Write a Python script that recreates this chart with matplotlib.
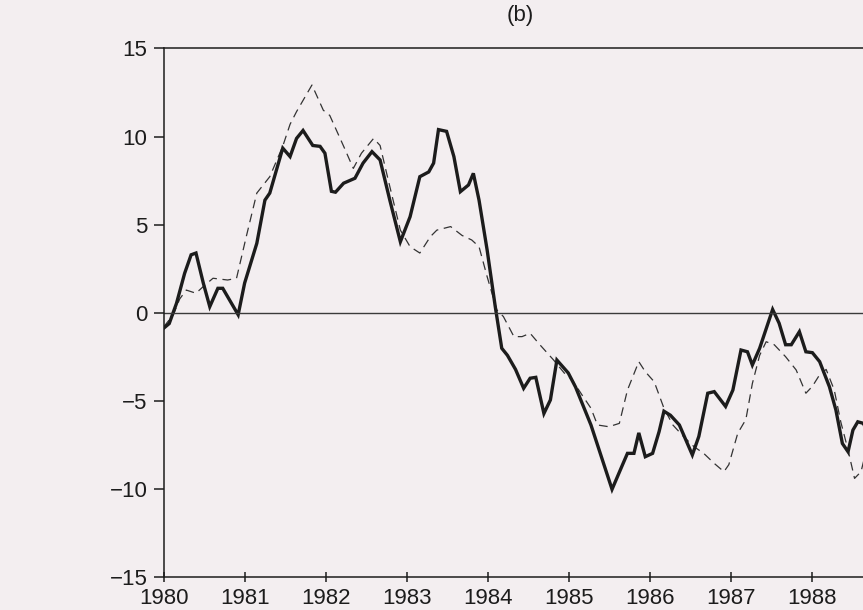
import matplotlib
matplotlib.use("Agg")
import matplotlib.pyplot as plt

# values (b)
solid_t = [1980.00, 1980.07, 1980.16, 1980.26, 1980.34, 1980.40, 1980.49, 1980.57,
           1980.67, 1980.73, 1980.92, 1981.00, 1981.15, 1981.25, 1981.31, 1981.47,
           1981.56, 1981.64, 1981.72, 1981.84, 1981.93, 1981.99, 1982.07, 1982.12,
           1982.22, 1982.36, 1982.46, 1982.57, 1982.67, 1982.79, 1982.92, 1983.04,
           1983.16, 1983.27, 1983.33, 1983.39, 1983.49, 1983.58, 1983.66, 1983.76,
           1983.82, 1983.89, 1983.99, 1984.09, 1984.17, 1984.24, 1984.34, 1984.44,
           1984.52, 1984.59, 1984.69, 1984.77, 1984.85, 1984.99, 1985.08, 1985.27,
           1985.53, 1985.66, 1985.72, 1985.80, 1985.86, 1985.94, 1986.03, 1986.11,
           1986.17, 1986.25, 1986.36, 1986.44, 1986.52, 1986.60, 1986.71, 1986.79,
           1986.93, 1987.02, 1987.12, 1987.20, 1987.26, 1987.35, 1987.51, 1987.59,
           1987.67, 1987.74, 1987.84, 1987.92, 1988.00, 1988.09, 1988.21, 1988.29,
           1988.37, 1988.44, 1988.50, 1988.56, 1988.63, 1988.70]
solid_v = [-0.87, -0.6, 0.55, 2.25, 3.3, 3.4, 1.7, 0.36,
           1.4, 1.4, -0.1, 1.7, 3.95, 6.4, 6.8, 9.35,
           8.87, 9.9, 10.35, 9.5, 9.45, 9.06, 6.9, 6.85,
           7.36, 7.64, 8.5, 9.15, 8.68, 6.4, 4.04, 5.46,
           7.73, 8.0, 8.5, 10.4, 10.3, 8.87, 6.88, 7.26,
           7.92, 6.4, 3.57, 0.36, -2.0, -2.4, -3.2, -4.27,
           -3.7, -3.65, -5.7, -4.93, -2.67, -3.4, -4.2, -6.35,
           -10.0, -8.6, -7.96, -7.96, -6.8, -8.15, -7.96, -6.73,
           -5.57, -5.8, -6.35, -7.2, -8.05, -7.0, -4.55, -4.46,
           -5.3, -4.37, -2.1, -2.2, -2.95, -2.0, 0.2, -0.58,
           -1.8, -1.8, -1.06, -2.2, -2.25, -2.76, -4.18, -5.5,
           -7.4, -7.87, -6.64, -6.17, -6.26, -7.0]

dash_t = [1980.00, 1980.12, 1980.20, 1980.28, 1980.40, 1980.49, 1980.61, 1980.79,
          1980.90, 1981.02, 1981.15, 1981.31, 1981.47, 1981.56, 1981.64, 1981.83,
          1981.97, 1982.05, 1982.22, 1982.34, 1982.44, 1982.59, 1982.67, 1982.77,
          1982.92, 1983.04, 1983.16, 1983.29, 1983.37, 1983.54, 1983.68, 1983.80,
          1983.89, 1983.99, 1984.11, 1984.19, 1984.32, 1984.42, 1984.52, 1984.64,
          1984.81, 1984.94, 1985.04, 1985.16, 1985.27, 1985.35, 1985.49, 1985.62,
          1985.72, 1985.86, 1985.94, 1986.05, 1986.17, 1986.28, 1986.41, 1986.54,
          1986.66, 1986.79, 1986.91, 1986.97, 1987.08, 1987.18, 1987.26, 1987.35,
          1987.43, 1987.53, 1987.67, 1987.80, 1987.92, 1988.00, 1988.09, 1988.17,
          1988.27, 1988.35, 1988.44, 1988.52, 1988.60, 1988.68]
dash_v = [-0.8, -0.1, 0.8, 1.3, 1.12, 1.5, 1.97, 1.87,
          1.97, 4.33, 6.8, 7.73, 9.46, 10.7, 11.42, 12.93,
          11.5, 11.2, 9.46, 8.2, 9.06, 9.9, 9.5, 7.55,
          4.7, 3.76, 3.4, 4.33, 4.7, 4.9, 4.4, 4.14,
          3.76, 2.06, 0.17, -0.2, -1.34, -1.34, -1.15, -1.8,
          -2.67, -3.4, -3.8, -4.65, -5.4, -6.35, -6.45, -6.26,
          -4.37, -2.76, -3.33, -3.9, -5.4, -6.35, -7.0, -7.58,
          -7.96, -8.53, -9.0, -8.6, -6.82, -6.04, -4.0, -2.4,
          -1.63, -1.8, -2.48, -3.23, -4.55, -4.16, -3.5, -3.2,
          -4.37, -6.17, -7.77, -9.38, -9.0, -7.5]

years = [1980, 1981, 1982, 1983, 1984, 1985, 1986, 1987, 1988]
yticks = [-15, -10, -5, 0, 5, 10, 15]

paper = "#f3eef0"
ink = "#1c1c1c"

plt.rcParams['font.family'] = ['Liberation Sans', 'DejaVu Sans']

fig = plt.figure(figsize=(8.63, 6.10), dpi=100, facecolor=paper)
# axes run past the right edge, as on the cropped scan
ax = fig.add_axes([0.1895, 0.0533, 0.8928, 0.8672], facecolor=paper)

ax.plot(dash_t, dash_v, color="#333333", lw=0.9, dashes=(7, 4.5))
ax.plot(solid_t, solid_v, color=ink, lw=2.4, solid_joinstyle="miter")
ax.axhline(0, color="#3a3a3a", lw=1.0)

ax.set_xlim(1980, 1989.5)
ax.set_ylim(-15, 15)
ax.set_xticks(years)
ax.set_yticks(yticks)

for s in ax.spines.values():
    s.set_color(ink)
    s.set_linewidth(1.1)

ax.tick_params(axis="x", direction="inout", length=7, width=1.1, colors=ink,
               labelsize=16, pad=4)
ax.tick_params(axis="y", direction="out", length=7, width=1.1, colors=ink,
               labelsize=16, pad=4.5)

fig.text(520 / 863, 1 - 16 / 610, "(b)", ha="center", va="center",
         fontsize=16, color=ink)

fig.savefig("out.png", dpi=100, facecolor=paper)
